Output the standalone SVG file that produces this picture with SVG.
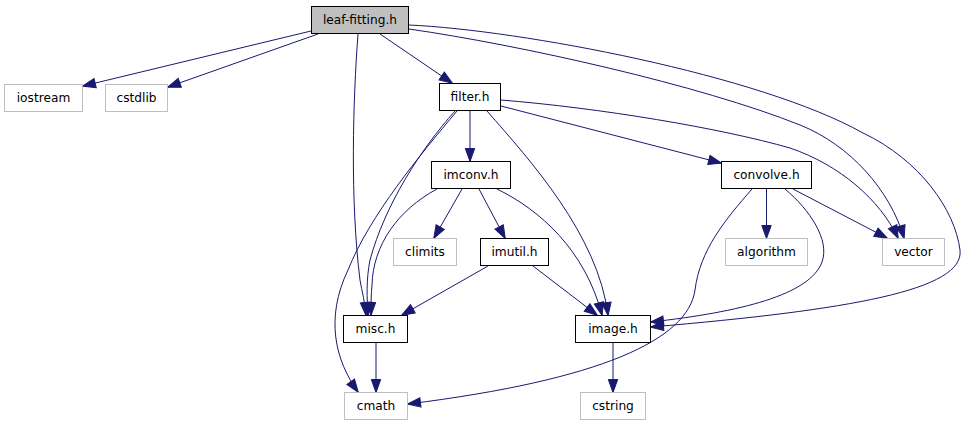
<svg xmlns="http://www.w3.org/2000/svg" width="967" height="427" viewBox="0 0 967 427">
<style>
.n rect{fill:#ffffff;stroke:#000000;stroke-width:1}
.g rect{fill:#ffffff;stroke:#bfbfbf;stroke-width:1}
.root rect{fill:#bfbfbf;stroke:#000000;stroke-width:1}
text{font-family:"DejaVu Sans",sans-serif;font-size:12.2px;text-anchor:middle;fill:#000000}
#edges path{fill:none;stroke:#191970;stroke-width:1;marker-end:url(#arr)}
</style>
<defs>
<marker id="arr" markerUnits="userSpaceOnUse" markerWidth="15" markerHeight="12" viewBox="-1 -1 15 12" refX="12.5" refY="4.7" orient="auto">
<path d="M0,0 L13,4.7 L0,9.4 z" fill="#191970" stroke="#191970" stroke-width="1"/>
</marker>
</defs>
<rect width="967" height="427" fill="#ffffff"/>
<g id="edges">
<path d="M311,31 L83,86"/>
<path d="M318,34 L168,87"/>
<path d="M380,34 L452,83"/>
<path d="M358,34 C353,100 350,200 360,280 C362,292 365,302 366,315"/>
<path d="M409,29 C520,45 700,85 800,125 C850,145 890,190 904,238"/>
<path d="M409,25 C520,30 760,75 863,133 C920,160 955,210 960,250 C965,290 850,310 651,327"/>
<path d="M470,111 L470,161"/>
<path d="M455,111 C420,150 385,205 370,260 C366,280 367,298 368,315"/>
<path d="M457,111 C420,155 370,215 348,270 C325,318 335,360 358,392"/>
<path d="M501,106 L721,163"/>
<path d="M501,100 C600,108 720,128 790,148 C840,165 880,200 898,238"/>
<path d="M487,111 C530,160 598,235 608,315"/>
<path d="M462,189 L434,238"/>
<path d="M479,189 L505,238"/>
<path d="M437,189 C398,210 373,245 372,285 C371,295 371,305 371,315"/>
<path d="M497,189 C540,210 585,250 602,315"/>
<path d="M488,266 L402,315"/>
<path d="M533,266 L597,315"/>
<path d="M766.5,189 L766.5,238"/>
<path d="M793,189 L887,238"/>
<path d="M785,189 C810,210 830,240 822,262 C810,295 740,312 651,322"/>
<path d="M752,189 C725,220 700,250 695,290 C688,340 600,380 408,404"/>
<path d="M376,343 L376,392"/>
<path d="M613,343 L613,392"/>
</g>
<g id="node-leaf-fitting" class="root"><rect x="311.5" y="6.5" width="97" height="27"/><text x="360" y="24">leaf-fitting.h</text></g>
<g id="node-iostream" class="g"><rect x="4.5" y="84.5" width="78" height="27"/><text x="43.5" y="102">iostream</text></g>
<g id="node-cstdlib" class="g"><rect x="105.5" y="84.5" width="62" height="27"/><text x="136.5" y="102">cstdlib</text></g>
<g id="node-filter" class="n"><rect x="439.5" y="83.5" width="61" height="27"/><text x="470" y="101">filter.h</text></g>
<g id="node-imconv" class="n"><rect x="431.5" y="161.5" width="79" height="27"/><text x="471" y="179">imconv.h</text></g>
<g id="node-climits" class="g"><rect x="393.5" y="238.5" width="63" height="27"/><text x="425" y="256">climits</text></g>
<g id="node-imutil" class="n"><rect x="480.5" y="238.5" width="68" height="27"/><text x="514.5" y="256">imutil.h</text></g>
<g id="node-convolve" class="n"><rect x="721.5" y="161.5" width="90" height="27"/><text x="766.5" y="179">convolve.h</text></g>
<g id="node-algorithm" class="g"><rect x="725.5" y="238.5" width="82" height="27"/><text x="766.5" y="256">algorithm</text></g>
<g id="node-vector" class="g"><rect x="882.5" y="238.5" width="62" height="27"/><text x="913.5" y="256">vector</text></g>
<g id="node-misc" class="n"><rect x="343.5" y="315.5" width="64" height="27"/><text x="375.5" y="333">misc.h</text></g>
<g id="node-image" class="n"><rect x="575.5" y="315.5" width="75" height="27"/><text x="613" y="333">image.h</text></g>
<g id="node-cmath" class="g"><rect x="344.5" y="392.5" width="63" height="27"/><text x="376" y="410">cmath</text></g>
<g id="node-cstring" class="g"><rect x="580.5" y="392.5" width="65" height="27"/><text x="613" y="410">cstring</text></g>
</svg>
